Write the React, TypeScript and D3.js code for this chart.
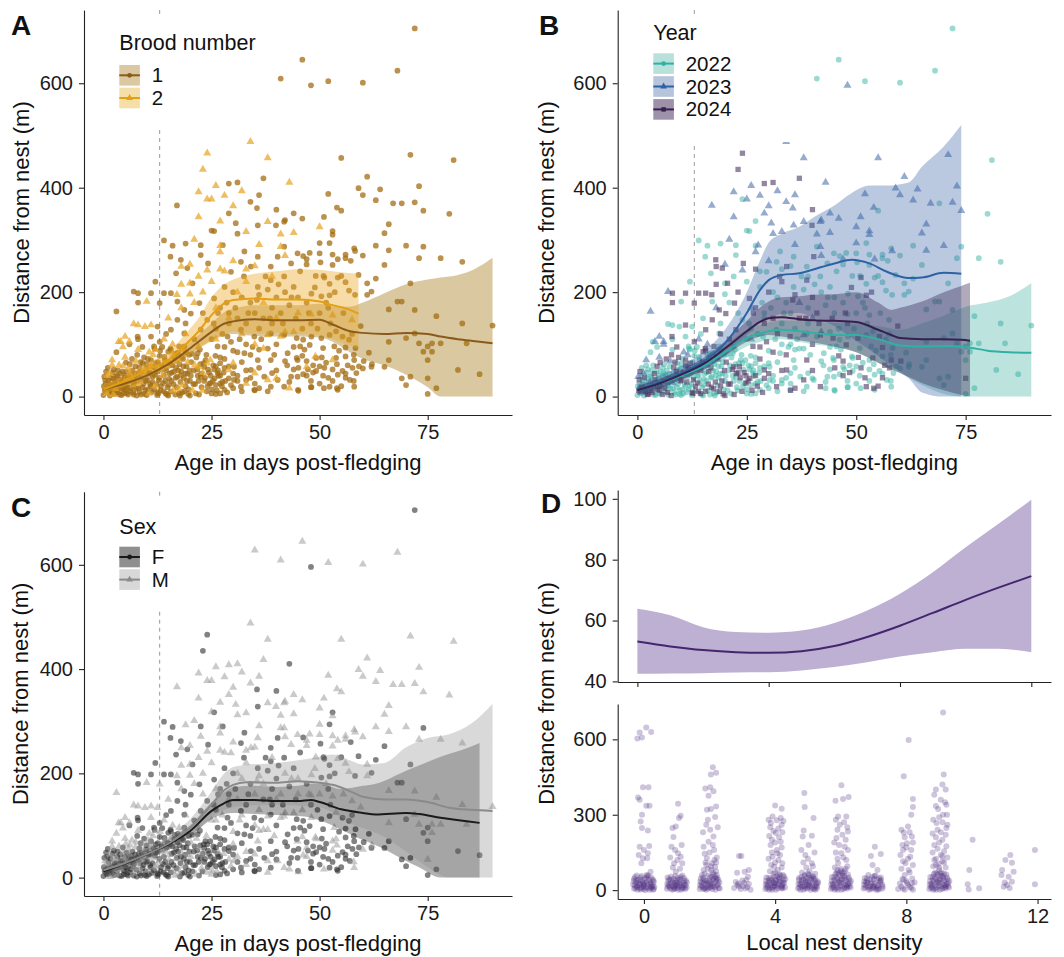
import React, { useRef, useEffect } from 'react';
import * as d3 from 'd3';

const FONT = '"Liberation Sans", Arial, Helvetica, sans-serif';

// GPS fixes: [age in days post-fledging, distance from nest (m), brood, year, sex (0 = F, 1 = M)]
const fixes: number[][] = [
  [72,705,1,22,0],[46,645,1,22,1],[35,628,0,22,1],[41,609,1,22,1],[48,596,1,23,0],[52,604,1,22,1],[60,601,1,22,1],[68,624,1,22,1],
  [34,488,2,23,1],[24,466,2,24,0],[23,435,2,24,0],[38,457,2,23,1],[55,457,1,23,1],[71,463,1,23,1],[81,453,1,22,1],[61,421,1,23,1],
  [37,418,1,24,1],[29,408,1,24,1],[31,410,1,24,1],[43,410,2,23,0],[59,399,1,23,1],[60,386,1,23,1],[64,397,1,23,1],[73,403,1,23,1],
  [52,388,1,23,1],[63,376,1,23,1],[67,370,1,23,1],[69,370,1,22,1],[72,372,1,23,1],[74,356,1,23,1],[80,350,1,22,1],[17,366,1,23,1],
  [34,373,1,23,1],[36,386,1,23,1],[35.5,361,1,23,0],[54,362,1,23,1],[55,356,1,22,1],[51,344,1,23,1],[44,351,1,23,1],[40,358,1,24,0],
  [42,338,1,23,1],[46,341,1,23,1],[29,351,1,23,1],[25,318,1,22,1],[53,317,1,23,0],[66,330,1,23,1],[65,313,1,23,1],[70,289,1,23,1],
  [74,287,1,22,0],[63,289,1,22,1],[58,284,1,22,1],[14,299,1,22,0],[16,289,1,22,0],[19,293,1,22,1],[50,274,1,22,1],[73,265,1,22,1],
  [78,265,1,22,1],[83,258,1,22,1],[60,270,1,22,1],[56,265,1,22,1],[66,280,1,23,1],[65,252,1,22,0],[71,217,1,22,0],[61,217,1,22,1],
  [59,233,1,22,0],[63,226,1,22,0],[61,195,1,22,1],[62,201,1,22,0],[68,182,1,22,0],[69,182,1,22,0],[66,167,1,22,1],[72,166,1,22,1],
  [77,154,1,22,1],[83,140,1,22,1],[90,136,1,22,1],[66,105,1,22,1],[70,112,1,22,0],[72,121,1,22,1],[73,102,1,22,1],[75,96,1,22,0],
  [76,102,1,22,1],[74,86,1,22,0],[76,86,1,22,1],[78,102,1,22,1],[84,102,1,22,1],[75,70,1,22,0],[71,38,1,22,0],[69,35,1,22,0],
  [70,22,1,22,0],[75,35,1,24,1],[77,16,1,22,0],[75,5,1,22,0],[82,51,1,22,0],[87,43,1,22,0],[66,70,1,22,0],[65,57,1,22,0],
  [62,57,1,22,0],[60,54,1,22,1],[58,19,1,22,1],[57,32,1,22,0],[54,16,1,24,0],[51,16,1,22,1],[48,18,1,22,0],[45,13,1,22,0],
  [38,10,1,22,1],[36,16,1,24,0],[35,25,1,22,0],[33,32,1,22,0],[30,16,1,22,0],[27,6,1,22,0],[26,5,1,22,0],
  [3,163,1,23,1],[7,201,1,23,0],[8,198,1,24,0],[8,180,1,24,0],[12,220,1,22,0],[14,198,1,24,0],[13,179,1,24,1],[11,198,1,24,0],
  // brood 2
  [22,392,2,23,1],[26,404,2,23,1],[28,385,2,23,1],[25,378,2,23,1],[24,378,2,22,1],[32,394,2,23,1],[27,336,2,22,1],[30,365,2,23,1],
  [33,316,2,23,1],[36,291,2,23,1],[33,244,2,22,1],[21,301,2,23,1],[22,344,2,23,1],[44,314,2,23,1],[41,311,2,23,1],[50,325,2,23,1],
  [38,335,2,23,1],[41,287,2,22,1],[27,289,2,22,1],[27,277,2,23,1],[27,244,2,24,1],[20,253,2,23,1],[18,249,2,24,1],[24,242,2,23,1],
  [22,230,2,22,1],[20,217,2,22,1],[18,215,2,24,1],[20,196,2,22,1],[17,195,2,24,1],[10,182,2,22,1],[7,139,2,22,1],[5,115,2,23,1],
  [4,105,2,23,1],[3.5,105,2,22,1],[6,105,2,23,1],[8,137,2,22,1],[9.6,134,2,22,1],[11,137,2,24,1],[42,124,2,23,1],[44,124,2,22,1],
  [41,115,2,22,1],[38,118,2,23,1],[37,92,2,22,1],[48,158,2,22,1],[43,16,2,22,1],[40,35,2,22,0],[38,32,2,24,1],[33,25,2,22,1],
  [35,45,2,22,1],[29,51,2,24,0],[30,64,2,22,1],[24,64,2,22,0],[22,57,2,24,1],[53,70,2,22,1],[49,77,2,22,1],[47,57,2,22,1],
  [57.5,147,2,22,1],[53,156,2,22,1],
  [15,150,2,22,1],[18,170,2,23,1],[21,180,2,22,1],[23,200,2,24,1],[25,220,2,22,1],[26,170,2,23,1],[28,240,2,22,1],[30,260,2,23,1],
  [31,200,2,22,1],[33,220,2,24,1],[35,250,2,22,1],[37,180,2,23,1],[39,230,2,22,1],[42,270,2,23,1],[45,160,2,22,1],[12,90,2,22,1],
  [14,110,2,23,1],[16,80,2,22,1],[19,120,2,24,1],[22,95,2,22,1],[26,110,2,23,1],[29,150,2,22,1],[32,120,2,24,1],[35,100,2,22,1],
  [40,150,2,23,1],[2,60,2,22,1],[5,75,2,23,1],[8,90,2,22,1],[11,60,2,24,1],[6,45,2,22,1],
  // middle of the cloud
  [15.5,268,1,22,0],[17.9,262,1,24,0],[22.5,271,1,22,1],[24.2,255,1,24,0],[19.4,246,1,24,0],[16.8,236,1,22,0],[20.6,217,1,24,0],
  [15.6,198,1,24,0],[17.1,182,1,22,0],[18.7,166,1,24,0],[22.2,179,1,24,0],[25.6,188,1,24,0],[28,210,1,22,0],[29.5,239,1,22,1],
  [31.8,258,1,22,0],[34.1,249,1,24,1],[32.6,278,1,22,0],[35.7,268,1,22,1],[38.7,249,1,22,0],[40.3,268,1,24,0],[43.4,255,1,22,1],
  [44.9,274,1,22,1],[41.8,230,1,22,0],[38.7,223,1,24,0],[35.7,210,1,22,0],[41.8,287,1,23,1],[27.6,290,1,23,0],[31,312,1,23,1],
  [35.7,328,1,23,0],[39.9,328,1,24,1],[41.8,335,1,23,1],[25.6,317,1,22,0],[30.6,332,1,23,1],[22.5,290,1,22,0],
  [17.1,147,1,24,0],[20.2,159,1,24,0],[24,147,1,22,0],[22.5,128,1,24,0],[18.7,121,1,22,0],[15.6,128,1,24,0],[12.5,134,1,22,1],
  [7.9,115,1,24,0],[11.7,96,1,22,0],[15.6,89,1,24,0],[18.7,96,1,22,0],[21.8,83,1,22,0],[26.4,96,1,24,0],[28.7,115,1,22,0],
  [31.8,128,1,22,0],[34.9,115,1,24,0],[38.7,121,1,22,0],[41.8,118,1,24,1],[32.6,83,1,22,0],[35.7,70,1,22,1],[38.7,70,1,24,0],
  [42.6,83,1,22,0],[44.9,70,1,22,1],[30.2,57,1,22,0],[34.1,51,1,24,0],[37.2,38,1,22,0],[40.3,32,1,22,1],[43.4,38,1,22,0],
  [30.2,32,1,22,1],[28,13,1,22,0],[31.8,19,1,24,0],[34.9,13,1,22,0],[38.7,19,1,22,0],[41.8,19,1,24,1],[44.9,38,1,22,0],
  [26.4,45,1,22,0],[24.8,26,1,24,0],[22.5,38,1,22,0],[23.3,57,1,24,0],
  [30,200,1,24,0],[32,190,1,22,1],[34,180,1,22,0],[36,195,1,24,1],[38,205,1,22,0],[40,190,1,24,0],[42,200,1,22,1],[44,210,1,22,0],
  [27,170,1,24,0],[29,160,1,22,0],[31,150,1,24,1],[33,140,1,22,0],[35,160,1,22,1],[37,150,1,24,0],[39,170,1,22,0],[41,160,1,24,1],
  [43,175,1,22,0],[45,190,1,22,1],[28,95,1,24,0],[33,100,1,22,0],[36,90,1,22,1],[40,100,1,24,0],[44,95,1,22,0],[46,130,1,22,1],
  [48,140,1,24,0],[47,180,1,22,0],[50,160,1,22,1],[52,170,1,22,0],[26,130,1,22,0],[29,140,1,24,0],[36,130,1,22,1],[39,140,1,22,0],
  [27,75,1,22,0],[31,85,1,24,0],[25,110,1,22,1],[21,110,1,24,0],[19,140,1,22,0],[23,160,1,22,1],
  [25.5,140,1,22,0],[26.5,160,1,24,0],[27.5,120,1,22,1],[28.5,180,1,22,0],[29.5,105,1,24,0],[30.5,170,1,22,0],[31.5,110,1,22,1],
  [32.5,230,1,24,0],[33.5,160,1,22,0],[34.5,95,1,22,0],[35.5,185,1,24,1],[36.5,110,1,22,0],[37.5,230,1,22,0],[38.5,150,1,24,0],
  [39.5,80,1,22,1],[40.5,215,1,22,0],[41.5,140,1,24,0],[42.5,60,1,22,0],[43.5,190,1,22,1],[44.5,150,1,24,0],[45.5,240,1,22,0],
  [46.5,90,1,22,0],[47.5,160,1,24,1],[48.5,60,1,22,0],[49.5,130,1,22,0],[50.5,75,1,24,0],[51.5,180,1,22,1],[52.5,140,1,22,0],
  [53.5,200,1,24,0],[54.5,88,1,22,0],[55.5,160,1,22,1],[56.5,60,1,24,0],[57.5,120,1,22,0],[58.5,45,1,22,0],[59.5,135,1,24,1],
  [26,58,1,22,0],[28,72,1,24,0],[30,88,1,22,1],[32,66,1,22,0],[34,80,1,24,0],[36,55,1,22,0],[38,92,1,22,1],[40,50,1,24,0],
  [42,68,1,22,0],[44,52,1,22,0],[46,78,1,24,1],[48,30,1,22,0],[50,58,1,22,0],[52,36,1,24,0],[54,62,1,22,1],[56,44,1,22,0],
  [58,70,1,24,0],[27,25,1,22,0],[31,40,1,22,1],[35,12,1,24,0],[39,45,1,22,0],[43,28,1,22,0],[47,40,1,24,1],[50,25,1,22,0],
  [53,30,1,22,0],[55,20,1,24,0],
  [47.7,275,1,22,1],[50,294,1,23,1],[52.3,294,1,22,0],[53,310,1,23,1],[46.2,269,1,22,0],[47,263,1,23,1],[47,253,1,22,1],
  [50.2,257,1,22,0],[53,272,1,22,1],[54.2,263,1,23,1],[56,272,1,22,1],[58.2,279,1,23,1],[57.2,260,1,22,0],[53,252,1,22,1],
  [50.9,231,1,22,0],[49.1,231,1,22,1],[51.1,228,1,24,0],[54.2,228,1,22,1],[55,231,1,22,0],[56,219,1,22,1],[52.3,216,1,22,0],
  [48.9,209,1,24,1],[50.4,192,1,22,0],[48.1,197,1,22,1],[52.3,194,1,24,0],[56.8,203,1,22,1],[58.2,195,1,22,0],
  [44.7,112,1,24,0],[46.2,109,1,22,0],[48.1,115,1,22,1],[50.4,112,1,24,0],[52.3,118,1,22,0],[53.8,125,1,22,1],[55.3,115,1,24,0],
  [56.8,109,1,22,0],[45.5,96,1,22,0],[47.7,99,1,24,0],[50.8,93,1,22,0],[53.4,96,1,22,1],[56,94,1,24,0],[58.3,93,1,22,0],
  [44.7,74,1,22,0],[47,68,1,24,0],[49.2,74,1,22,1],[51.5,65,1,22,0],[53.8,74,1,24,1],[56,77,1,22,0],[57.9,80,1,22,0],
  [45.1,55,1,24,0],[47.3,52,1,22,0],[49.2,49,1,22,0],[51.1,55,1,24,0],[53,52,1,22,1],[55.3,49,1,22,0],[57.6,55,1,24,0],
  [59.1,58,1,22,0],[46.2,43,1,22,1],[48.5,46,1,24,0],[50.8,40,1,22,0],[54.2,42,1,22,0],[56,36,1,24,0],[57.9,30,1,22,1],
  [48.1,18,1,22,0],[52.3,19,1,24,0],[54.2,13,1,22,0],[45.1,11,1,22,1],[61.4,84,1,22,0],[62.1,62,1,22,1],[60.2,68,1,24,0],
  // first weeks, close to the nest
  [0,3,1,22,0],[0.3,12,1,24,0],[0.5,25,1,22,1],[0.2,38,1,23,0],[0.8,6,2,22,0],[1,18,1,24,0],[1.2,30,1,22,0],[1.5,2,1,22,1],
  [1.4,45,2,23,1],[1.8,10,1,24,0],[2,22,1,22,0],[2.2,35,1,22,1],[2.5,5,1,24,0],[2.4,52,1,22,0],[2.8,15,2,22,1],[3,28,1,23,0],
  [3.2,40,1,22,0],[3.4,8,1,24,1],[3.6,60,2,22,1],[3.8,20,1,22,0],[4,33,1,24,0],[4.2,3,1,22,0],[4.4,48,1,22,1],[4.6,14,1,24,0],
  [4.8,26,2,22,0],[5,40,1,22,0],[5.2,65,1,24,1],[5.4,7,1,22,0],[5.6,18,1,23,0],[5.8,55,2,22,1],[6,30,1,24,0],[6.2,10,1,22,0],
  [6.4,42,1,22,0],[6.6,72,1,24,1],[6.8,22,2,22,0],[7,4,1,22,0],[7.2,35,1,24,0],[7.4,58,1,22,1],[7.6,15,1,22,0],[7.8,80,1,24,0],
  [8,26,2,23,1],[8.2,46,1,22,0],[8.4,8,1,22,0],[8.6,66,1,24,0],[8.8,36,1,22,1],[9,18,1,22,0],[9.2,52,2,22,1],[9.4,75,1,24,0],
  [9.6,5,1,22,0],[9.8,30,1,24,0],[10,62,1,22,0],[10.2,14,1,22,1],[10.4,44,1,24,0],[10.6,85,2,23,1],[10.8,24,1,22,0],[11,70,1,24,0],
  [11.2,9,1,22,0],[11.4,38,1,22,1],[11.6,56,1,24,0],[11.8,92,1,22,0],[12,20,2,22,1],[12.2,48,1,24,0],[12.4,3,1,22,0],[12.6,66,1,22,0],
  [12.8,32,1,24,1],[13,78,1,22,0],[13.2,12,1,22,0],[13.4,52,2,24,1],[13.6,95,1,22,0],[13.8,26,1,24,0],[14,40,1,22,0],[14.2,70,1,22,1],
  [14.4,6,1,24,0],[14.6,58,2,22,0],[14.8,18,1,22,0],[15,86,1,24,0],[15.2,34,1,22,1],[15.4,64,1,22,0],[15.6,10,1,24,0],[15.8,46,1,22,0],
  [16,100,2,23,1],[16.2,24,1,24,0],[16.4,74,1,22,0],[16.6,4,1,22,1],[16.8,55,1,24,0],[17,38,1,22,0],[17.2,84,1,22,0],[17.4,15,2,24,1],
  [17.6,62,1,22,0],[17.8,28,1,24,0],[18,48,1,22,1],[18.2,8,1,22,0],[18.4,72,1,24,0],[18.6,36,1,22,0],[18.8,90,2,22,1],[19,20,1,24,0],
  [19.2,58,1,22,0],[19.4,44,1,22,1],[19.6,5,1,24,0],[19.8,80,1,22,0],[20,30,1,22,0],[20.3,66,1,24,1],[20.6,12,2,22,0],[20.9,50,1,22,0],
  [21.2,24,1,24,0],[21.5,75,1,22,1],[21.8,40,1,22,0],[22.1,4,1,24,0],[22.4,62,1,22,0],[22.7,18,1,22,1],[23,46,2,24,0],[23.3,30,1,22,0],
  [23.6,70,1,22,0],[23.9,10,1,24,1],[24.2,52,1,22,0],[24.5,25,1,22,0],[24.8,40,1,24,0],[25.1,14,1,22,1],[25.4,60,1,22,0],[25.7,35,1,24,0],
  [26,22,1,22,0],[26.5,50,1,22,1],[27,40,1,24,0],[27.5,28,1,22,0],[28,55,1,22,0],[29,35,1,24,1],[1,55,1,22,0],[2,70,2,23,1],
  [0.6,48,1,24,0],[3,85,1,22,1],[4.5,95,2,22,1],[6,100,1,23,0],[8,110,1,22,0],[9,95,1,24,0],[11,115,1,22,1],[13,105,1,24,0],
  [14.5,120,1,22,0],[2,8,1,22,0],[5,12,1,24,0],[7,20,1,22,1],[10,3,1,22,0],[12.5,8,1,24,0],[15,2,1,22,0],[17.5,6,1,22,1],[20,2,1,24,0],
  [0.1,20,1,22,0],[0.4,32,1,24,1],[0.7,14,1,22,0],[0.9,40,2,22,0],[1.1,8,1,23,0],[1.3,24,1,22,1],[1.6,36,1,24,0],[1.9,16,1,22,0],
  [2.1,46,1,22,0],[2.3,4,2,24,1],[2.6,28,1,22,0],[2.9,38,1,22,1],[3.1,12,1,24,0],[3.3,50,1,22,0],[3.5,22,2,23,1],[3.7,4,1,22,0],
  [3.9,44,1,24,0],[4.1,16,1,22,1],[4.3,30,1,22,0],[4.5,58,2,24,0],[4.7,6,1,22,0],[4.9,36,1,22,1],[5.1,20,1,24,0],[5.3,48,1,22,0],
  [5.5,28,2,22,1],[5.7,4,1,24,0],[5.9,40,1,22,0],[6.1,62,1,22,1],[6.3,16,1,24,0],[6.5,34,2,22,0],[6.7,50,1,22,0],[6.9,8,1,24,1],
  [7.1,26,1,22,0],[7.3,44,1,22,0],[7.5,68,2,23,1],[7.7,2,1,24,0],[7.9,38,1,22,0],[8.1,16,1,22,1],[8.3,56,1,24,0],[8.5,28,2,22,0],
  [8.7,4,1,22,0],[8.9,48,1,24,0],[9.1,64,1,22,1],[9.3,24,1,22,0],[9.5,40,2,24,1],[9.7,12,1,22,0],[9.9,54,1,22,0],[10.1,32,1,24,0],
  [10.3,72,1,22,1],[10.5,6,2,22,0],[10.7,46,1,24,0],[10.9,20,1,22,0],[11.1,58,1,22,1],[11.3,28,1,24,0],[11.5,80,2,23,1],[11.7,14,1,22,0],
  [11.9,42,1,22,0],[12.1,64,1,24,0],[12.3,24,1,22,1],[12.5,52,2,22,0],[12.7,6,1,24,0],[12.9,36,1,22,0],[13.1,88,1,22,1],[13.3,20,1,24,0],
  [13.5,60,1,22,0],[13.7,40,2,22,1],[13.9,10,1,24,0],[14.1,76,1,22,0],[14.3,30,1,22,0],[14.5,50,1,24,1],[14.7,4,1,22,0],[14.9,66,2,24,0],
  [15.1,22,1,22,0],[15.3,44,1,22,1],[15.5,92,1,24,0],[15.7,30,1,22,0],[15.9,60,1,22,0],[16.1,12,2,22,1],[16.3,48,1,24,0],[16.5,82,1,22,0],
  [16.7,36,1,22,1],[16.9,18,1,24,0],[17.1,68,2,22,0],[17.3,50,1,22,0],[17.5,96,1,24,1],[17.7,2,1,22,0],[17.9,40,1,22,0],[18.1,76,1,24,0],
  [18.3,22,2,22,1],[18.5,58,1,22,0],[18.7,10,1,24,0],[18.9,44,1,22,0],[19.1,84,1,22,1],[19.3,30,1,24,0],[19.5,66,2,22,0],[19.7,14,1,22,0],
  [19.9,50,1,24,0],[20.2,40,1,22,1],[20.5,82,1,22,0],[20.8,24,1,24,0],[21.1,60,2,22,0],[21.4,6,1,22,1],[21.7,52,1,24,0],[22,30,1,22,0],
  [22.3,90,1,22,0],[22.6,44,1,24,1],[22.9,12,2,22,0],[23.2,64,1,22,0],[23.5,36,1,24,0],[23.8,80,1,22,1],[24.1,20,1,22,0],[24.4,46,1,24,0],
  [24.7,70,2,22,0],[25,6,1,22,1],[25.3,30,1,24,0],[25.6,52,1,22,0],[25.9,78,1,22,0],[26.2,12,1,24,1],[26.6,40,1,22,0],[27,64,1,22,0],
  [27.4,20,1,24,0],[27.8,46,1,22,1],[28.2,30,1,22,0],[28.6,8,1,24,0],[29,58,1,22,0],[29.5,22,1,22,1],[30,44,1,24,0],[31,30,1,22,0],
  [32,10,1,22,0],[33,50,1,24,1],[34,36,1,22,0],
];

// smoothed fits, panel A (brood number)
const brood1Age = [0,5,10,15,20,25,28,30,35,40,45,50,53,57,60,65,70,75,78,82,86,90];
const brood1Fit = [14,25,40,62,92,124,140,144,148,146,146,147,138,125,122,120,122,120,115,110,106,102];
const brood1Lo = [6,18,32,52,80,108,118,120,116,115,115,113,105,85,72,60,42,18,0,0,0,0];
const brood1Hi = [22,32,48,72,104,140,162,168,175,175,175,178,172,172,180,198,215,224,228,233,245,266];
const brood2Age = [0,5,10,15,20,22,25,28,30,35,40,45,50,53,56,59];
const brood2Fit = [14,30,51,70,108,125,156,179,185,188,186,186,182,175,169,159];
const brood2Lo = [5,20,38,55,80,92,105,118,125,120,122,120,117,110,100,92];
const brood2Hi = [24,40,64,86,130,150,190,215,224,235,240,244,243,240,237,235];

// panel B (year)
const y22Age = [0,5,10,15,20,25,30,33,37,40,45,50,55,60,65,70,75,80,85,90];
const y22Fit = [12,25,40,58,85,112,125,128,125,122,118,118,110,98,96,97,95,88,85,84];
const y22Lo = [5,17,32,48,72,96,108,110,105,100,95,85,65,45,22,5,0,0,0,0];
const y22Hi = [20,33,48,68,98,128,142,146,145,144,141,140,135,128,140,155,172,180,192,217];
const y23Age = [0,5,10,15,20,25,28,30,33,37,40,45,49,53,57,62,65,70,74];
const y23Fit = [13,27,45,67,102,160,204,223,233,236,243,255,262,255,239,227,228,237,235];
const y23Lo = [3,15,33,50,78,118,142,150,158,160,152,135,112,90,65,35,8,0,0];
const y23Hi = [24,40,58,85,128,200,260,295,312,325,342,366,390,404,404,410,440,479,520];
const y24Age = [0,5,10,15,20,25,28,30,33,37,40,45,50,55,58,60,65,70,74,76];
const y24Fit = [12,25,42,62,92,125,143,150,152,148,146,145,143,128,118,112,110,110,109,107];
const y24Lo = [4,16,32,50,78,105,115,118,115,108,104,96,85,65,52,45,26,12,3,0];
const y24Hi = [20,34,52,74,106,145,170,182,190,192,195,196,200,180,166,170,182,200,212,218];

// panel C (sex)
const femAge = [0,5,10,15,20,25,28,30,35,40,45,48,50,55,60,63,70,73,78,84,87];
const femFit = [12,27,45,64,89,128,143,149,149,147,147,149,145,131,124,121,124,122,115,108,105];
const femLo = [5,19,36,54,78,112,122,124,122,120,118,115,110,92,72,62,32,20,0,0,0];
const femHi = [20,35,54,74,100,144,164,174,176,174,176,180,180,170,176,180,205,215,232,248,258];
const malAge = [0,5,10,15,20,25,28,30,33,40,45,50,53,57,60,65,70,75,80,85,90];
const malFit = [14,28,45,65,95,140,168,178,183,182,185,182,178,166,155,150,150,145,134,130,128];
const malLo = [5,18,34,52,80,115,130,135,138,140,138,135,125,105,95,78,50,20,0,0,0];
const malHi = [24,38,56,78,112,165,200,212,216,220,225,232,236,225,217,220,250,268,275,295,333];

// panel D (local nest density)
const densX = [0,1,2,3,4,5,6,7,8,9,10,11,12];
const densFit = [53.1,51.5,50.3,49.6,49.4,49.9,51.6,54.6,58.3,62.5,66.8,70.8,74.6];
const densLo = [42.5,42.6,42.7,42.9,43,43.6,44.7,46.3,48.2,49.6,50.7,50.7,49.6];
const densHi = [63.9,61.7,57.8,56.2,56,56.7,59.2,63.3,68.8,75.9,84.1,91.8,99.7];

// jittered raw points: [local nest density, distance (m)]
const densPoints: number[][] = [
  [-0.2,603],[-0.13,627],[-0.06,607],[0.07,647],[0.22,629],[-0.03,409],[0.14,409],[-0.18,369],[-0.13,360],[0.07,336],[0.17,336],
  [-0.06,300],[-0.1,273],[-0.06,247],[0.12,237],[-0.13,173],[0,160],[0.12,147],[-0.16,140],[-0.03,127],[0.1,127],[0.16,176],[0.2,73],[-0.08,107],
  [-0.3,5],[-0.2,12],[-0.1,3],[0,18],[0.1,8],[0.2,25],[0.3,4],[-0.25,30],[-0.15,20],[-0.05,35],[0.05,10],[0.15,40],[0.25,15],[-0.3,45],
  [-0.2,2],[-0.1,50],[0,28],[0.1,55],[0.2,6],[0.3,32],[-0.28,18],[-0.18,38],[-0.08,9],[0.02,44],[0.12,22],[0.22,50],[0.32,12],[-0.22,58],
  [0.08,60],[0.28,2],[-0.02,14],[0.26,42],[0.04,0],[-0.26,8],[0.18,30],[-0.12,24],
  [-0.33,22],[-0.23,40],[-0.13,6],[-0.03,26],[0.07,48],[0.17,2],[0.27,20],[-0.31,36],[-0.21,16],[-0.11,42],[-0.01,4],[0.09,32],
  [0.19,14],[0.29,38],[-0.27,52],[0.13,58],[-0.07,56],[0.23,10],[0.01,22],[-0.17,28],
  [1.04,344],[1.12,296],[1.07,287],[0.97,253],[0.87,247],[0.9,211],[0.84,173],[1.04,147],[1.12,133],[0.92,107],[1.17,107],[0.97,73],
  [0.88,90],[1.1,85],[1.02,120],[0.95,160],[1.15,180],[0.8,130],
  [0.7,5],[0.78,14],[0.86,2],[0.94,22],[1.02,8],[1.1,30],[1.18,12],[1.26,4],[0.74,36],[0.82,26],[0.9,44],[0.98,16],[1.06,40],[1.14,20],
  [1.22,48],[1.3,10],[0.72,50],[0.8,6],[0.88,32],[0.96,56],[1.04,2],[1.12,52],[1.2,28],[1.28,38],[0.76,20],[0.92,10],[1,30],[1.08,14],[1.16,6],[1.24,22],
  [0.71,24],[0.81,40],[0.91,4],[1.01,20],[1.11,44],[1.21,8],[1.31,30],[0.73,14],[0.83,54],[0.93,28],[1.03,48],[1.13,2],[1.23,36],
  [0.77,44],[0.87,16],[0.97,38],[1.07,24],[1.17,58],[1.27,18],[0.95,6],
  [2.1,489],[2.04,460],[2.2,467],[1.87,404],[2.02,409],[2.12,393],[1.97,376],[1.92,320],[2.04,323],[2.2,333],[2.17,291],[1.9,260],
  [2.02,240],[2.12,213],[1.97,193],[1.82,173],[2.14,160],[1.92,127],[2.07,107],[2.17,93],[1.82,80],
  [1.8,230],[2.25,250],[1.95,280],[2.1,180],[1.85,145],[2.22,130],[2,150],[1.88,110],[2.15,120],[2.05,95],[1.95,85],[2.2,75],[1.85,65],[2.1,70],
  [1.7,4],[1.78,16],[1.86,6],[1.94,28],[2.02,10],[2.1,40],[2.18,2],[2.26,22],[1.72,34],[1.8,50],[1.88,24],[1.96,58],[2.04,14],[2.12,46],
  [2.2,36],[2.28,8],[1.74,12],[1.82,42],[1.9,2],[1.98,20],[2.06,54],[2.14,26],[2.22,60],[2.3,30],[1.76,28],[1.84,8],[2,36],[2.08,4],[2.16,12],[2.24,48],
  [1.71,20],[1.81,4],[1.91,36],[2.01,50],[2.11,16],[2.21,44],[2.31,6],[1.73,46],[1.83,28],[1.93,12],[2.03,30],[2.13,62],[2.23,18],
  [1.77,60],[1.87,38],[1.97,6],[2.07,24],[2.17,52],[2.27,40],[2.05,80],[1.9,100],[2.2,110],
  [2.97,136],[2.9,136],[2.84,69],[3.07,73],[3.2,80],[3.17,53],
  [2.75,8],[2.85,20],[2.95,4],[3.05,28],[3.15,12],[3.25,2],[2.8,32],[2.9,14],[3,38],[3.1,6],[3.2,24],[2.88,26],[3.02,16],[3.12,40],
  [4,337],[4.2,324],[3.92,293],[4.17,287],[3.87,267],[4.2,260],[4.02,227],[3.9,200],[4.17,193],[4.07,147],[3.92,133],[4.22,107],[3.97,93],
  [3.8,280],[4.05,278],[4.25,275],[3.85,250],[4.1,245],[3.95,235],[4.22,230],[3.82,215],[4.12,210],[4,190],[3.86,180],[4.2,170],
  [4.05,160],[3.9,150],[4.15,140],[3.8,125],[4.1,120],[4,110],[3.88,100],[4.2,90],[3.84,75],[4.08,80],[4.24,60],[3.95,65],
  [3.7,4],[3.78,18],[3.86,8],[3.94,30],[4.02,2],[4.1,24],[4.18,12],[4.26,40],[3.72,36],[3.8,48],[3.88,22],[3.96,52],[4.04,14],[4.12,44],
  [4.2,6],[4.28,28],[3.74,12],[3.82,2],[3.9,40],[3.98,18],[4.06,56],[4.14,34],[4.22,20],[4.3,10],[3.76,26],[3.92,10],[4,42],[4.08,6],[4.16,58],[4.24,30],
  [3.71,22],[3.81,38],[3.91,2],[4.01,26],[4.11,50],[4.21,16],[4.31,44],[3.73,50],[3.83,30],[3.93,14],[4.03,38],[4.13,62],[4.23,8],
  [3.77,6],[3.87,46],[3.97,28],[4.07,20],[4.17,36],[4.27,54],[4,70],
  [4.89,387],[4.9,331],[5.17,287],[4.87,237],[5.12,216],[4.84,213],[5.02,180],[4.92,140],[5.12,107],
  [4.8,160],[5.2,150],[5,125],[4.86,110],[5.15,95],[4.95,90],[5.05,75],[4.82,70],[5.22,65],[4.9,60],
  [4.7,6],[4.78,20],[4.86,2],[4.94,32],[5.02,12],[5.1,44],[5.18,4],[5.26,26],[4.72,40],[4.8,52],[4.88,16],[4.96,48],[5.04,28],[5.12,8],
  [5.2,38],[5.28,14],[4.74,10],[4.82,30],[4.9,56],[4.98,6],[5.06,50],[5.14,22],[5.22,2],[5.3,34],[4.76,24],[4.92,14],[5,36],[5.08,2],[5.16,54],[5.24,18],
  [4.71,24],[4.81,40],[4.91,6],[5.01,20],[5.11,54],[5.21,12],[5.31,28],[4.73,48],[4.83,14],[4.93,36],[5.03,60],[5.13,30],[5.23,44],
  [4.77,2],[4.87,40],[4.97,22],[5.07,16],[5.17,46],[5.27,6],[5,66],
  [6.02,417],[5.84,356],[6.07,363],[6.24,371],[5.92,293],[6.17,293],[5.97,260],[6.22,233],[5.87,207],[6.12,173],[6.02,147],[6.17,120],[5.92,107],
  [5.85,280],[6.1,270],[6.2,250],[5.9,240],[6.05,220],[5.8,190],[6.15,200],[5.95,180],[6.22,160],[5.85,150],[6.08,130],[5.9,125],
  [6.2,95],[5.82,90],[6,85],[6.12,75],[5.88,70],
  [5.7,4],[5.78,18],[5.86,8],[5.94,30],[6.02,2],[6.1,24],[6.18,12],[6.26,42],[5.72,36],[5.8,52],[5.88,22],[5.96,60],[6.04,14],[6.12,48],
  [6.2,6],[6.28,28],[5.74,12],[5.82,2],[5.9,44],[5.98,18],[6.06,56],[6.14,34],[6.22,62],[6.3,10],[5.76,26],[5.92,10],[6,40],[6.08,4],
  [6.16,20],[6.24,50],[5.84,64],[6.04,66],
  [5.71,22],[5.81,40],[5.91,2],[6.01,28],[6.11,56],[6.21,16],[6.31,36],[5.73,52],[5.83,30],[5.93,66],[6.03,44],[6.13,8],[6.23,24],
  [5.77,8],[5.87,50],[5.97,36],[6.07,70],[6.17,40],[6.27,16],[6,76],[5.9,80],[6.15,84],
  [7.04,173],[6.92,136],[7.22,144],[6.97,100],[7.12,80],
  [6.7,6],[6.78,18],[6.86,2],[6.94,30],[7.02,10],[7.1,40],[7.18,4],[7.26,22],[6.72,34],[6.8,46],[6.88,14],[6.96,52],[7.04,26],[7.12,8],
  [7.2,36],[7.28,14],[6.74,10],[6.82,28],[6.9,42],[6.98,6],[7.06,58],[7.14,20],[7.22,50],[6.84,60],[7,18],[7.08,2],
  [6.71,22],[6.81,36],[6.91,4],[7.01,44],[7.11,16],[7.21,30],[6.73,48],[6.83,10],[6.93,26],[7.03,56],[7.13,2],[7.23,40],
  [6.77,30],[6.97,14],[7.17,46],[7.27,6],
  [8.07,597],[7.92,453],[8.2,363],[8.2,331],[8.15,300],[8.05,253],[7.92,229],[8.17,213],[8.02,187],[7.9,160],[8.12,133],[7.97,107],
  [8.07,80],[7.92,40],[8.17,27],
  [7.85,240],[8.1,230],[7.95,210],[8.2,190],[7.88,180],[8,170],[8.15,160],[7.82,140],[8.05,125],[7.9,115],[8.2,100],[7.85,85],[8.1,70],[7.95,60],
  [7.75,4],[7.85,14],[7.95,2],[8.05,20],[8.15,8],[8.25,30],[7.8,26],[7.9,6],[8,36],[8.1,12],[8.2,2],[7.88,44],[8.02,28],[8.18,46],
  [9.12,707],[9.14,460],[9.1,420],[8.9,400],[9.2,400],[9.22,340],[8.97,323],[9.12,300],[8.92,267],[9.24,300],[9.22,247],
  [8.85,380],[9.05,360],[9.18,350],[8.9,335],[9,290],[8.82,280],[9.1,270],[9.25,260],[8.95,240],[9.05,230],[8.8,225],[9.2,220],
  [8.9,210],[9.1,200],[9,190],[8.85,180],[9.22,175],[8.95,165],[9.15,155],[8.8,150],[9.05,140],[9.25,130],[8.9,125],[9.1,115],
  [8.98,105],[8.82,95],[9.2,90],[9,80],[8.88,70],[9.15,65],
  [8.7,4],[8.78,18],[8.86,6],[8.94,30],[9.02,2],[9.1,24],[9.18,12],[9.26,42],[8.72,36],[8.8,52],[8.88,22],[8.96,60],[9.04,14],[9.12,48],
  [9.2,6],[9.28,28],[8.74,12],[8.82,2],[8.9,44],[8.98,18],[9.06,56],[9.14,34],[9.22,62],[9.3,10],[8.76,26],[8.92,10],[9,40],[9.08,4],
  [9.16,20],[9.24,50],[8.84,64],[9.04,66],
  [8.71,22],[8.81,40],[8.91,2],[9.01,28],[9.11,56],[9.21,16],[9.31,36],[8.73,52],[8.83,30],[8.93,66],[9.03,44],[9.13,8],[9.23,24],
  [8.77,8],[8.87,50],[8.97,36],[9.07,70],[9.17,40],[9.27,16],[9,90],[8.9,100],[9.15,110],[8.85,120],[9.1,135],
  [10.02,200],[9.92,80],[9.87,23],[9.9,3],[10.22,7],
  [11.17,140],[11.02,120],[11.22,109],[10.92,80],[11.27,73],[11.12,53],[10.9,60],[11.22,33],[10.97,13],[11.07,20],[11,30],[11.15,8],
  [11.92,160],[11.92,23],
];

const ageTicks = [0, 25, 50, 75];
const distTicks = [0, 200, 400, 600];
const densTicks = [0, 4, 8, 12];
const fitTicks = [40, 60, 80, 100];
const rawTicks = [0, 300, 600];

type Group = {
  key: number; label: string; shape: string; point: string; pointOp: number;
  line: string; fill: string; fillOp: number; keyFill: string;
  age: number[]; fit: number[]; lo: number[]; hi: number[];
};

const broodGroups: Group[] = [
  { key: 1, label: '1', shape: 'circle', point: '#a36c12', pointOp: 0.75, line: '#8b5a1b', fill: '#a27511', fillOp: 0.4, keyFill: '#dac8a0',
    age: brood1Age, fit: brood1Fit, lo: brood1Lo, hi: brood1Hi },
  { key: 2, label: '2', shape: 'triangle', point: '#e8a626', pointOp: 0.72, line: '#e3a012', fill: '#eca825', fillOp: 0.4, keyFill: '#f6dea9',
    age: brood2Age, fit: brood2Fit, lo: brood2Lo, hi: brood2Hi },
];
const yearGroups: Group[] = [
  { key: 22, label: '2022', shape: 'circle', point: '#38b3a6', pointOp: 0.5, line: '#2fb1a5', fill: '#36ab9f', fillOp: 0.33, keyFill: '#b9e1dc',
    age: y22Age, fit: y22Fit, lo: y22Lo, hi: y22Hi },
  { key: 23, label: '2023', shape: 'triangle', point: '#3f67a6', pointOp: 0.55, line: '#2d62a3', fill: '#3a64a6', fillOp: 0.35, keyFill: '#b6c4dc',
    age: y23Age, fit: y23Fit, lo: y23Lo, hi: y23Hi },
  { key: 24, label: '2024', shape: 'square', point: '#4b3563', pointOp: 0.6, line: '#36204f', fill: '#3d2a55', fillOp: 0.4, keyFill: '#9e92aa',
    age: y24Age, fit: y24Fit, lo: y24Lo, hi: y24Hi },
];
const sexGroups: Group[] = [
  { key: 0, label: 'F', shape: 'circle', point: '#2e2e2e', pointOp: 0.6, line: '#1a1a1a', fill: '#000000', fillOp: 0.3, keyFill: '#8f8f8f',
    age: femAge, fit: femFit, lo: femLo, hi: femHi },
  { key: 1, label: 'M', shape: 'triangle', point: '#959595', pointOp: 0.5, line: '#8a8a8a', fill: '#8c8c8c', fillOp: 0.33, keyFill: '#d8d8d8',
    age: malAge, fit: malFit, lo: malLo, hi: malHi },
];

function symbolPath(shape: string, size: number) {
  const t = shape === 'triangle' ? d3.symbolTriangle : shape === 'square' ? d3.symbolSquare : d3.symbolCircle;
  return d3.symbol().type(t).size(size)() as string;
}
const SIZES: Record<string, number> = { circle: 26, triangle: 28, square: 28 };

function styleAxis(g: any) {
  g.attr('font-size', 20).attr('font-family', FONT);
  g.selectAll('path.domain').attr('stroke', '#222').attr('stroke-width', 1.1);
  g.selectAll('.tick line').attr('stroke', '#222').attr('stroke-width', 1.1);
  g.selectAll('.tick text').attr('fill', '#1a1a1a');
}

function drawAxes(svg: any, x: any, y: any, bottom: number, left: number, xTicks: number[], yTicks: number[], xLabels = true) {
  const ax = d3.axisBottom(x).tickValues(xTicks).tickSize(5).tickPadding(5).tickSizeOuter(0);
  if (!xLabels) ax.tickFormat(() => '');
  svg.append('g').attr('transform', `translate(0,${bottom})`).call(ax).call(styleAxis);
  const ay = d3.axisLeft(y).tickValues(yTicks).tickSize(5).tickPadding(6).tickSizeOuter(0);
  svg.append('g').attr('transform', `translate(${left},0)`).call(ay).call(styleAxis);
}

function text(svg: any, x: number, y: number, s: string, size: number, opts: any = {}) {
  const t = svg.append('text').attr('x', x).attr('y', y).attr('font-family', FONT).attr('font-size', size)
    .attr('fill', '#111').attr('text-anchor', opts.anchor || 'start').text(s);
  if (opts.bold) t.attr('font-weight', 'bold');
  if (opts.rotate) t.attr('transform', `rotate(-90,${x},${y})`);
  return t;
}

function scatterPanel(svg: any, cfg: any) {
  const { left, right, top, bottom, groups, field } = cfg;
  const x = d3.scaleLinear().domain([-4.5, 94.5]).range([left, right]);
  const y = d3.scaleLinear().domain([-35.25, 740.25]).range([bottom, top]);
  const g = svg.append('g');

  g.append('line').attr('x1', x(13)).attr('x2', x(13)).attr('y1', top).attr('y2', bottom)
    .attr('stroke', '#9a9a9a').attr('stroke-width', 1).attr('stroke-dasharray', '4,4');

  groups.forEach((grp: Group) => {
    const rows = fixes.filter(r => r[field] === grp.key);
    g.append('g').selectAll('path').data(rows).enter().append('path')
      .attr('d', symbolPath(grp.shape, SIZES[grp.shape]))
      .attr('transform', (r: number[]) => `translate(${x(r[0])},${y(r[1])})`)
      .attr('fill', grp.point).attr('fill-opacity', grp.pointOp);
  });

  groups.forEach((grp: Group) => {
    const idx = d3.range(grp.age.length);
    const area = d3.area<number>().x(i => x(grp.age[i])).y0(i => y(grp.lo[i])).y1(i => y(grp.hi[i])).curve(d3.curveMonotoneX);
    g.append('path').attr('d', area(idx)).attr('fill', grp.fill).attr('fill-opacity', grp.fillOp);
  });
  groups.forEach((grp: Group) => {
    const idx = d3.range(grp.age.length);
    const line = d3.line<number>().x(i => x(grp.age[i])).y(i => y(grp.fit[i])).curve(d3.curveMonotoneX);
    g.append('path').attr('d', line(idx)).attr('fill', 'none').attr('stroke', grp.line).attr('stroke-width', 2);
  });

  drawAxes(g, x, y, bottom, left, ageTicks, distTicks);
  text(g, (left + right) / 2, bottom + 55, 'Age in days post-fledging', 22, { anchor: 'middle' });
  text(g, cfg.yTitleX, (top + bottom) / 2, 'Distance from nest (m)', 22, { anchor: 'middle', rotate: true });
  text(g, cfg.letterX, top + 25, cfg.letter, 28, { bold: true });

  // legend
  const L = cfg.legend;
  g.append('rect').attr('x', L.bg[0]).attr('y', L.bg[1]).attr('width', L.bg[2] - L.bg[0]).attr('height', L.bg[3] - L.bg[1]).attr('fill', '#fff');
  text(g, L.x, L.titleY, L.title, 21.5);
  groups.forEach((grp: Group, i: number) => {
    const ky = L.keyTop + i * L.step;
    const k = 20.6;
    g.append('rect').attr('x', L.x).attr('y', ky).attr('width', k).attr('height', k).attr('fill', grp.keyFill);
    g.append('line').attr('x1', L.x).attr('x2', L.x + k).attr('y1', ky + k / 2).attr('y2', ky + k / 2)
      .attr('stroke', grp.line).attr('stroke-width', 2);
    g.append('path').attr('d', symbolPath(grp.shape, SIZES[grp.shape] * 0.7))
      .attr('transform', `translate(${L.x + k / 2},${ky + k / 2})`).attr('fill', grp.line);
    text(g, L.x + 32.4, ky + k / 2 + 7, grp.label, 20.5);
  });
}

function densityPanel(svg: any) {
  const left = 617.7, right = 1051;
  const g = svg.append('g');
  // fitted relationship
  const xf = d3.scaleLinear().domain([-0.6, 12.6]).range([left, right]);
  const yf = d3.scaleLinear().domain([39.8, 102.9]).range([682, 490]);
  const idx = d3.range(densX.length);
  const area = d3.area<number>().x(i => xf(densX[i])).y0(i => yf(densLo[i])).y1(i => yf(densHi[i])).curve(d3.curveMonotoneX);
  g.append('path').attr('d', area(idx)).attr('fill', '#52308a').attr('fill-opacity', 0.38);
  const line = d3.line<number>().x(i => xf(densX[i])).y(i => yf(densFit[i])).curve(d3.curveMonotoneX);
  g.append('path').attr('d', line(idx)).attr('fill', 'none').attr('stroke', '#45256f').attr('stroke-width', 2);
  drawAxes(g, xf, yf, 682, left, densTicks, fitTicks, false);

  // raw points
  const xr = d3.scaleLinear().domain([-0.8, 12.41]).range([left, right]);
  const yr = d3.scaleLinear().domain([-35.3, 740.7]).range([899, 704]);
  g.append('g').selectAll('circle').data(densPoints).enter().append('circle')
    .attr('cx', (d: number[]) => xr(d[0])).attr('cy', (d: number[]) => yr(d[1])).attr('r', 3)
    .attr('fill', '#4b2a7e').attr('fill-opacity', 0.27);
  drawAxes(g, xr, yr, 899, left, densTicks, rawTicks);

  text(g, (left + right) / 2, 950, 'Local nest density', 22, { anchor: 'middle' });
  text(g, 553.5, 693.5, 'Distance from nest (m)', 22, { anchor: 'middle', rotate: true });
  text(g, 541, 513, 'D', 28, { bold: true });
}

export default function App() {
  const ref = useRef<SVGSVGElement>(null);

  useEffect(() => {
    document.body.style.margin = '0';
    const svg = d3.select(ref.current);
    svg.selectAll('*').remove();
    svg.append('rect').attr('width', 1064).attr('height', 957).attr('fill', '#fff');

    scatterPanel(svg, {
      left: 84, right: 512, top: 10, bottom: 415, groups: broodGroups, field: 2, letter: 'A', letterX: 11, yTitleX: 28.5,
      legend: { x: 119.3, title: 'Brood number', titleY: 50, keyTop: 65, step: 22.7, bg: [108, 17, 272, 128] },
    });
    scatterPanel(svg, {
      left: 617.7, right: 1051, top: 10, bottom: 415, groups: yearGroups, field: 3, letter: 'B', letterX: 539, yTitleX: 553.5,
      legend: { x: 653.3, title: 'Year', titleY: 39.5, keyTop: 53.3, step: 22.9, bg: [642, 14, 800, 142] },
    });
    scatterPanel(svg, {
      left: 84, right: 512, top: 491.7, bottom: 896, groups: sexGroups, field: 4, letter: 'C', letterX: 11, yTitleX: 28.5,
      legend: { x: 119.3, title: 'Sex', titleY: 533.7, keyTop: 546.7, step: 22.6, bg: [108, 499, 200, 610] },
    });
    densityPanel(svg);
  }, []);

  return <svg ref={ref} width={1064} height={957} style={{ display: 'block', position: 'absolute', left: 0, top: 0 }} />;
}
